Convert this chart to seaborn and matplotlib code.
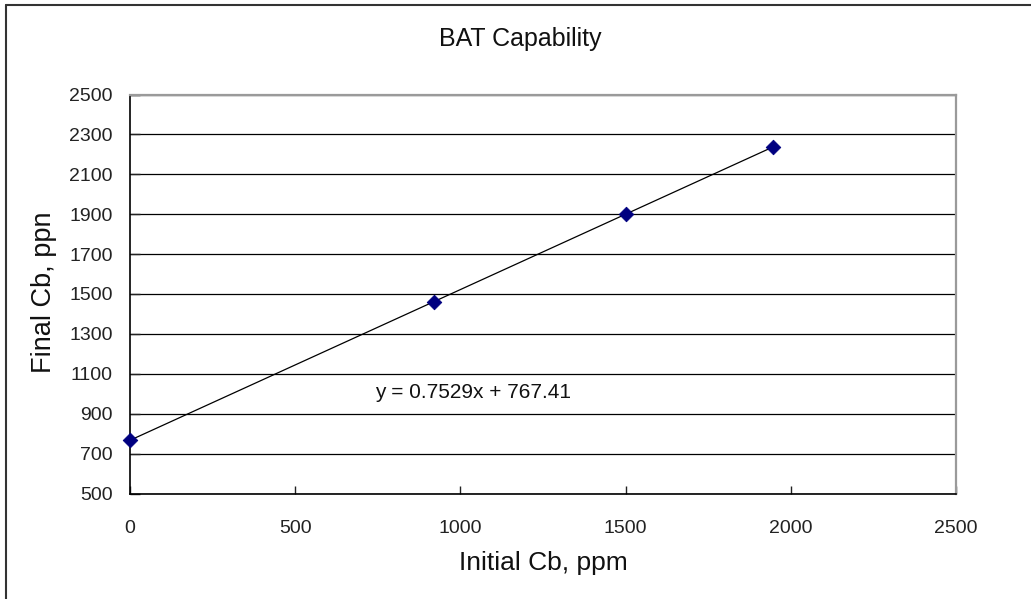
#!/usr/bin/env python3
# -*- coding: utf-8 -*-

import numpy as np
import pandas as pd
import seaborn as sns
import matplotlib.pyplot as plt
from matplotlib.lines import Line2D

# Data #########################################################################
initial_cb = [0, 921, 1500, 1947]
final_cb = [767, 1462, 1900, 2238]
x_ticks = [0, 500, 1000, 1500, 2000, 2500]
y_ticks = [500, 700, 900, 1100, 1300, 1500, 1700, 1900, 2100, 2300, 2500]
equation = "y = 0.7529x + 767.41"


def plot():
    sns.set_theme(style="white")
    plt.rcParams["font.family"] = ["Liberation Sans", "DejaVu Sans"]

    df = pd.DataFrame({"initial": initial_cb, "final": final_cb})

    fig = plt.figure(figsize=(10.31, 5.99), dpi=100)
    ax = fig.add_axes([130 / 1031, 1 - 493.5 / 599, 826 / 1031, 399 / 599])

    # horizontal gridlines behind everything
    for y in y_ticks:
        ax.axhline(y, color="black", lw=0.9, zorder=0)

    # linear trendline + points
    sns.regplot(data=df, x="initial", y="final", ax=ax, scatter=False,
                ci=None, truncate=True, color="black",
                line_kws={"lw": 0.9, "zorder": 2})
    sns.scatterplot(data=df, x="initial", y="final", ax=ax, marker="D",
                    s=55, color="#000080", edgecolor="#000080", zorder=3,
                    clip_on=False)

    ax.text(741, 1004, equation, fontsize=15, va="center", ha="left",
            color="#111111")

    ax.set_xlim(0, 2500)
    ax.set_ylim(500, 2500)
    ax.set_xticks(x_ticks)
    ax.set_yticks(y_ticks)
    ax.set_xlabel("")
    ax.set_ylabel("")
    ax.tick_params(axis="x", direction="in", length=6, width=1, pad=19,
                   labelsize=14, colors="#222222", bottom=True)
    ax.tick_params(axis="y", direction="in", length=7, width=1, pad=12.5,
                   labelsize=14, colors="#222222", left=True)

    for side in ["left", "bottom"]:
        ax.spines[side].set_color("black")
        ax.spines[side].set_linewidth(1.2)
    for side in ["top", "right"]:
        ax.spines[side].set_color("#9a9a9a")
        ax.spines[side].set_linewidth(1.6)

    fig.text(520 / 1031, 1 - 39 / 599, "BAT Capability", fontsize=18,
             ha="center", va="center", color="#111111")
    fig.text(543 / 1031, 1 - 563 / 599, "Initial Cb, ppm", fontsize=19,
             ha="center", va="center", color="#111111")
    fig.text(44 / 1031, 1 - 292 / 599, "Final Cb, ppn", fontsize=19.5,
             ha="center", va="center", rotation=90, color="#111111")

    # outer chart border (only left and top are inside the picture)
    fig.add_artist(Line2D([6 / 1031, 6 / 1031], [0, 1 - 5 / 599],
                          color="#333333", lw=1.5))
    fig.add_artist(Line2D([6 / 1031, 1], [1 - 5 / 599, 1 - 5 / 599],
                          color="#333333", lw=1.5))

    fig.savefig("out.png", dpi=100)


if __name__ == "__main__":
    plot()
